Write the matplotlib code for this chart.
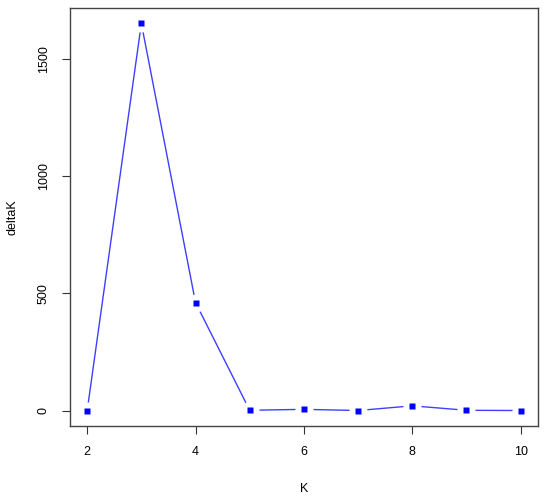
import numpy as np
import matplotlib.pyplot as plt

# deltaK values per K (Evanno method)
K = [2, 3, 4, 5, 6, 7, 8, 9, 10]
deltaK = [0, 1650, 460, 1, 5, 0, 20, 1, 0]

plt.rcParams['font.family'] = ['Liberation Sans', 'DejaVu Sans']

fig = plt.figure(figsize=(5.5, 5), dpi=100)
ax = fig.add_axes([0.127, 0.148, 0.851, 0.836])

# type="b" look: line, white halo around points, then square markers
ax.plot(K, deltaK, color='#3f3fff', linewidth=1.0, zorder=1)
ax.plot(K, deltaK, linestyle='none', marker='o', markersize=13,
        markerfacecolor='white', markeredgecolor='none', zorder=2)
ax.plot(K, deltaK, linestyle='none', marker='s', markersize=5,
        markerfacecolor='#0000ff', markeredgecolor='none', zorder=3)

# R-style 4% axis extension
xr = max(K) - min(K)
yr = max(deltaK) - min(deltaK)
ax.set_xlim(min(K) - 0.04 * xr, max(K) + 0.04 * xr)
ax.set_ylim(min(deltaK) - 0.04 * yr, max(deltaK) + 0.04 * yr)

ax.set_xticks([2, 4, 6, 8, 10])
ax.set_yticks([0, 500, 1000, 1500])
ax.tick_params(direction='out', length=5.5, width=0.8, color='#333333',
               labelsize=9, pad=9)
for lab in ax.get_yticklabels():
    lab.set_rotation(90)
    lab.set_va('center')

for s in ax.spines.values():
    s.set_color('#444444')
    s.set_linewidth(1.0)

ax.set_xlabel('K', fontsize=9, labelpad=18)
ax.set_ylabel('deltaK', fontsize=9, labelpad=14)

fig.savefig('out.png', dpi=100)
